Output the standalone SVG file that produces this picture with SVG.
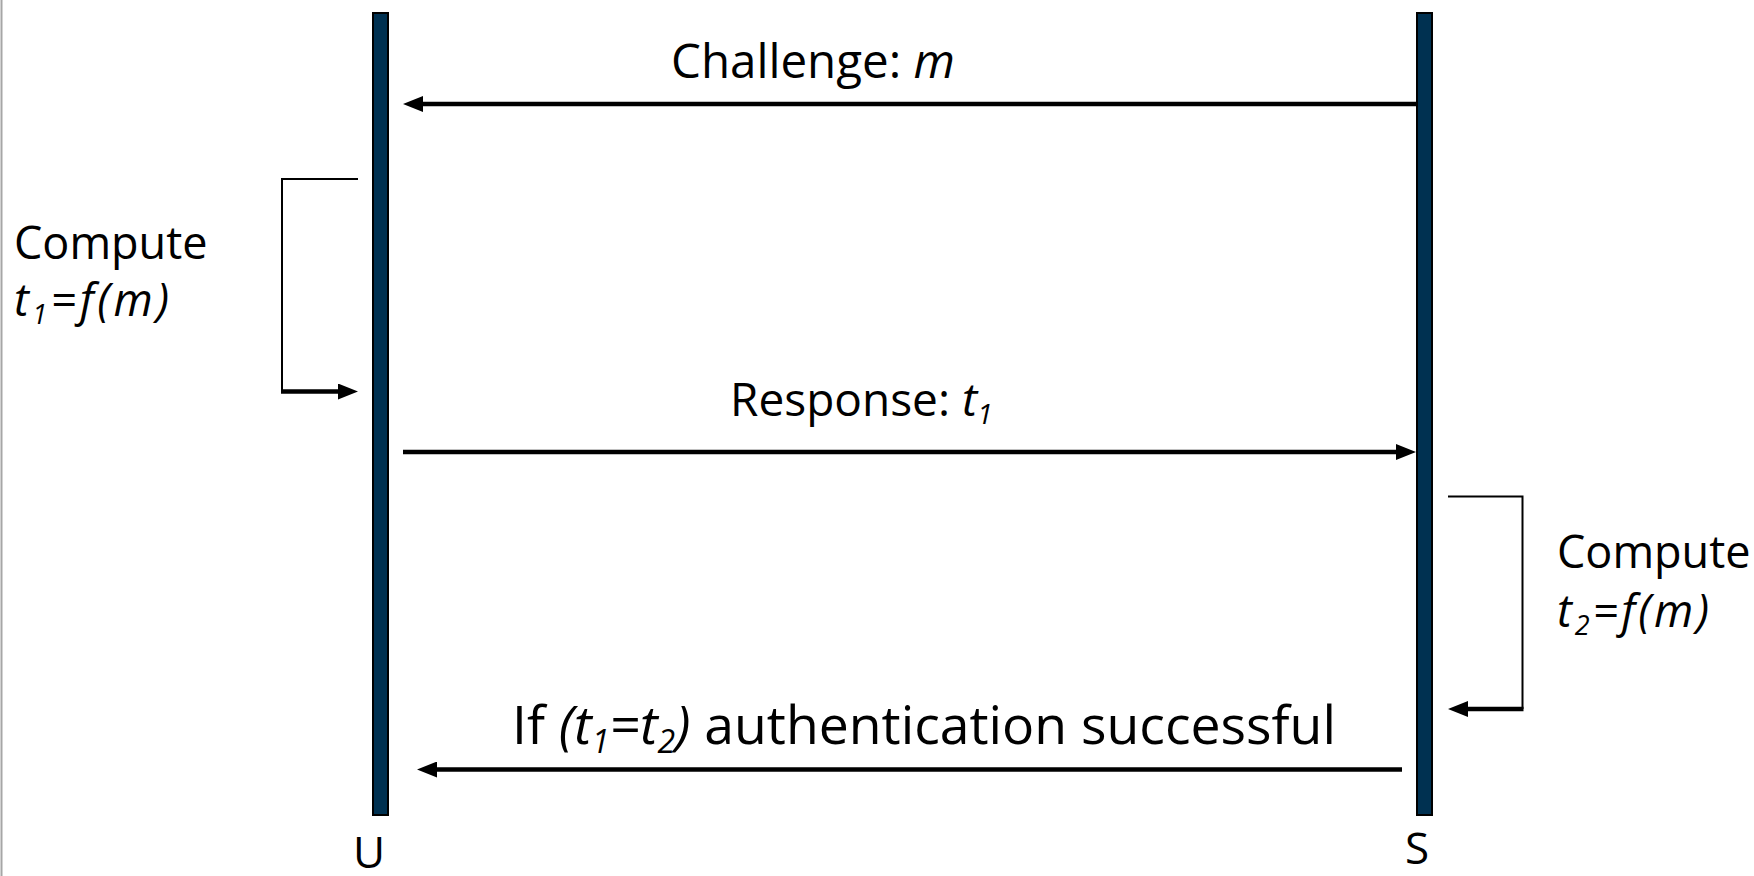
<svg xmlns="http://www.w3.org/2000/svg" width="1754" height="876" viewBox="0 0 1754 876">
<style>
.t{font-family:"Open Sans","Noto Sans","Liberation Sans",sans-serif;fill:#000}
.bar{fill:#003151;stroke:#000;stroke-width:2}
.msg{stroke:#000;stroke-width:4.5;fill:none}
.br{stroke:#000;stroke-width:2;fill:none}
</style>
<defs>
<marker id="ah" viewBox="0 0 20 16" refX="8" refY="8" markerWidth="20" markerHeight="16" markerUnits="userSpaceOnUse" orient="auto">
<path d="M0,0 L20,8 L0,16 z" fill="#000"/>
</marker>
</defs>
<rect width="1754" height="876" fill="#fff"/>
<line x1="1.5" y1="0" x2="1.5" y2="876" stroke="#a6a6a6" stroke-width="2"/>
<g id="U">
<rect class="bar" x="373" y="13" width="15" height="802"/>
<text class="t" x="369" y="868" font-size="44" text-anchor="middle">U</text>
</g>
<g id="S">
<rect class="bar" x="1417" y="13" width="15" height="802"/>
<text class="t" x="1417" y="864" font-size="44" text-anchor="middle">S</text>
</g>
<g id="connectors">
<path class="msg" d="M1417,104 L415,104" marker-end="url(#ah)"/>
<path class="msg" d="M403,452 L1404,452" marker-end="url(#ah)"/>
<path class="msg" d="M1402,769.5 L429,769.5" marker-end="url(#ah)"/>
<path class="br" d="M358,179 L282,179 L282,391.5"/>
<path class="msg" d="M281,391.5 L346,391.5" marker-end="url(#ah)"/>
<path class="br" d="M1448,496.5 L1522.5,496.5 L1522.5,709"/>
<path class="msg" d="M1523.5,709 L1460,709" marker-end="url(#ah)"/>
</g>
<g id="label-challenge">
<text class="t" x="671" y="78" font-size="47.5">Challenge: <tspan font-style="italic">m</tspan></text>
</g>
<g id="label-response">
<text class="t" x="730" y="416" font-size="46">Response:  <tspan font-style="italic">t</tspan><tspan font-style="italic" font-size="28" dy="8">1</tspan></text>
</g>
<g id="label-result">
<text class="t" x="512" y="744" font-size="53.5">If <tspan font-style="italic">(t</tspan><tspan font-style="italic" font-size="32" dy="9">1</tspan><tspan font-style="italic" dy="-9">=t</tspan><tspan font-style="italic" font-size="32" dy="9">2</tspan><tspan font-style="italic" dy="-9">)</tspan> authentication successful</text>
</g>
<g id="label-compute-u">
<text class="t" x="14" y="259" font-size="45">Compute</text>
<text class="t" x="14" y="316" font-size="45" font-style="italic" textLength="155" lengthAdjust="spacing">t<tspan font-size="27" dy="8">1</tspan><tspan dy="-8">=f(m)</tspan></text>
</g>
<g id="label-compute-s">
<text class="t" x="1557" y="568" font-size="45">Compute</text>
<text class="t" x="1557" y="627" font-size="45" font-style="italic" textLength="152" lengthAdjust="spacing">t<tspan font-size="27" dy="8">2</tspan><tspan dy="-8">=f(m)</tspan></text>
</g>
</svg>
